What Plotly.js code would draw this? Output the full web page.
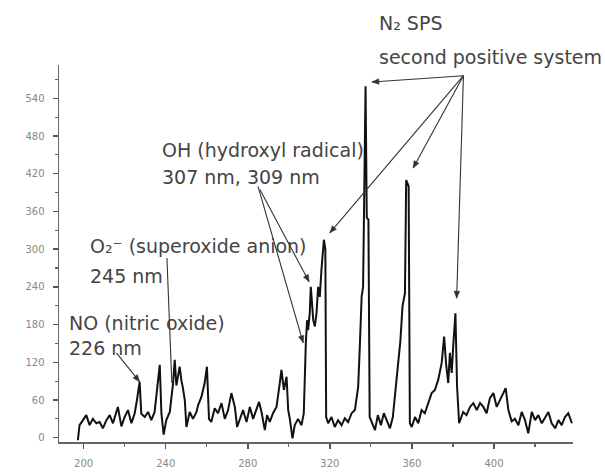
<!DOCTYPE html>
<html>
<head>
<meta charset="utf-8">
<script src="https://cdn.plot.ly/plotly-3.0.1.min.js"></script>
<style>html,body{margin:0;padding:0;background:#fff;}#chart{width:605px;height:472px;}</style>
</head>
<body>
<div id="chart"></div>
<script>
// Wavelength (nm) and emission intensity
const wavelength = [197.2,198.0,199.7,201.3,202.9,204.5,206.2,207.8,209.4,211.1,212.7,214.3,216.7,218.4,220.0,221.6,223.3,224.9,226.0,227.3,228.1,229.8,231.4,233.0,234.6,235.8,237.1,237.9,239.0,240.3,242.0,243.6,244.4,245.2,246.8,247.7,248.3,249.3,250.1,251.7,253.3,255.0,255.8,257.4,259.0,260.1,261.1,262.2,263.9,265.5,267.2,268.8,270.4,272.0,273.7,274.8,276.1,277.7,279.4,281.0,282.6,284.2,285.5,286.7,288.3,289.4,290.7,292.3,294.0,295.6,296.4,297.6,298.9,299.7,300.5,301.8,302.9,304.5,306.2,307.3,307.8,308.3,308.9,309.4,310.2,310.7,311.2,311.9,312.7,313.5,314.3,315.1,315.9,316.7,317.1,317.8,318.2,319.2,320.8,322.4,324.0,325.7,327.3,328.9,330.6,332.2,333.8,334.6,335.5,336.2,337.4,338.0,338.8,339.4,340.5,342.0,343.4,344.9,346.3,347.8,349.3,350.7,351.7,353.3,354.4,355.4,356.6,357.2,358.4,359.0,359.9,361.5,363.1,364.7,366.3,368.0,369.6,371.2,372.8,374.5,375.7,376.6,377.7,378.5,379.4,380.1,381.2,382.0,383.0,385.0,386.6,388.3,389.9,391.6,393.2,394.8,396.4,398.0,399.7,401.3,402.9,404.5,405.7,407.0,408.6,410.2,411.9,413.5,415.1,416.7,418.4,420.0,421.6,423.3,424.9,426.5,428.1,429.8,431.4,433.0,434.6,436.2,438.0];
const intensity = [-4,20,28,36,20,30,23,25,15,28,36,23,49,18,33,44,23,39,60,89,38,33,41,28,41,76,116,39,5,28,41,87,124,83,113,90,81,60,17,41,30,41,52,65,87,113,30,25,47,39,55,30,44,71,49,17,30,44,25,49,30,44,57,41,12,36,25,39,49,87,108,76,97,44,30,-1,20,30,20,39,103,151,187,171,198,240,219,187,177,198,240,224,267,294,315,300,33,23,33,17,28,20,31,25,39,44,81,145,225,240,559,350,347,33,23,12,36,20,39,28,15,33,71,119,155,209,230,410,400,23,17,33,23,44,39,55,71,76,92,119,161,119,87,135,103,145,198,81,23,41,36,49,55,44,55,49,39,63,71,49,59,69,79,44,26,30,20,41,28,7,41,28,36,23,33,41,23,15,28,20,33,39,23];

// Axis ticks
const xTickStart = 200, xTickStep = 40, xMinorStep = 20;
const yTickStart = 0, yTickStep = 60, yMinorStep = 30;

// Annotation texts
const labels = {
  no1: 'NO (nitric oxide)', no2: '226 nm',
  o21: 'O\u2082\u207B (superoxide anion)', o22: '245 nm',
  oh1: 'OH (hydroxyl radical)', oh2: '307 nm, 309 nm',
  n21: 'N\u2082 SPS', n22: 'second positive system'
};

const W = 605, H = 472;
const margin = {l: 59, r: 32, t: 65, b: 30};
const xRange = [188, 438.5], yRange = [-6.8, 593];
const kx = (W - margin.l - margin.r) / (xRange[1] - xRange[0]);
const ky = (H - margin.t - margin.b) / (yRange[1] - yRange[0]);

const txtFont = {family: 'DejaVu Sans, sans-serif', size: 19, color: '#444'};
function txt(x, y, t, ref) {
  return {x: x, y: y, xref: ref ? 'paper' : 'x', yref: ref ? 'paper' : 'y', text: t, showarrow: false,
          xanchor: 'left', yanchor: 'middle', font: txtFont};
}

// pointer lines: [tipX, tipY, tailX, tailY, withHead]
const pointers = [
  [227.3, 89, 216.0, 135, true],
  [243.0, 87, 240.6, 286, false],
  [307.0, 151, 285.0, 400, true],
  [309.9, 248, 285.9, 395, true],
  [340.5, 566, 385.1, 576, true],
  [320.0, 326, 385.1, 576, true],
  [360.6, 429, 385.1, 576, true],
  [381.8, 222, 385.1, 576, true]
];

const shapes = [];
pointers.forEach(p => {
  const [tx, ty, ax, ay, head] = p;
  shapes.push({type: 'line', xref: 'x', yref: 'y', x0: ax, y0: ay, x1: tx, y1: ty,
               line: {color: '#333', width: 1.1}});
  if (head) {
    const dx = (tx - ax) * kx, dy = (ty - ay) * ky;
    const len = Math.hypot(dx, dy);
    const ux = dx / len, uy = dy / len;
    const L = 7, hw = 2.8;
    const bx = -ux * L, by = -uy * L;
    const p1x = bx - uy * hw, p1y = by + ux * hw;
    const p2x = bx + uy * hw, p2y = by - ux * hw;
    const path = 'M ' + tx + ' ' + ty +
      ' L ' + (tx + p1x / kx) + ' ' + (ty + p1y / ky) +
      ' L ' + (tx + p2x / kx) + ' ' + (ty + p2y / ky) + ' Z';
    shapes.push({type: 'path', xref: 'x', yref: 'y', path: path,
                 fillcolor: '#333', line: {color: '#333', width: 0.5}});
  }
});

const annotations = [
  txt(191.7, 182, labels.no1), txt(191.7, 142, labels.no2),
  txt(202.0, 305, labels.o21), txt(202.0, 257, labels.o22),
  txt(237.1, 458, labels.oh1), txt(237.1, 415, labels.oh2),
  txt(0.619, 1.111, labels.n21, true), txt(0.619, 1.021, labels.n22, true)
];

const axisCommon = {
  showgrid: false, zeroline: false, showline: true, linecolor: '#666', linewidth: 1.5,
  ticks: 'outside', ticklen: 5, tickwidth: 1.5, tickcolor: '#555',
  tickfont: {family: 'DejaVu Sans, sans-serif', size: 10, color: '#888'},
  ticklabelstandoff: 6
};

const layout = {
  width: W, height: H,
  margin: margin,
  paper_bgcolor: '#fff', plot_bgcolor: '#fff',
  showlegend: false,
  xaxis: Object.assign({}, axisCommon, {
    range: xRange, tick0: xTickStart, dtick: xTickStep,
    minor: {dtick: xMinorStep, tick0: xTickStart, ticks: 'outside', ticklen: 3, tickcolor: '#666', tickwidth: 1.2}
  }),
  yaxis: Object.assign({}, axisCommon, {
    range: yRange, tick0: yTickStart, dtick: yTickStep,
    minor: {dtick: yMinorStep, tick0: yTickStart, ticks: 'outside', ticklen: 3, tickcolor: '#666', tickwidth: 1.2}
  }),
  shapes: shapes,
  annotations: annotations
};

const trace = {
  x: wavelength, y: intensity, type: 'scatter', mode: 'lines',
  line: {color: '#111', width: 2}, cliponaxis: false
};

Plotly.newPlot('chart', [trace], layout, {displayModeBar: false, staticPlot: true});
</script>
</body>
</html>
